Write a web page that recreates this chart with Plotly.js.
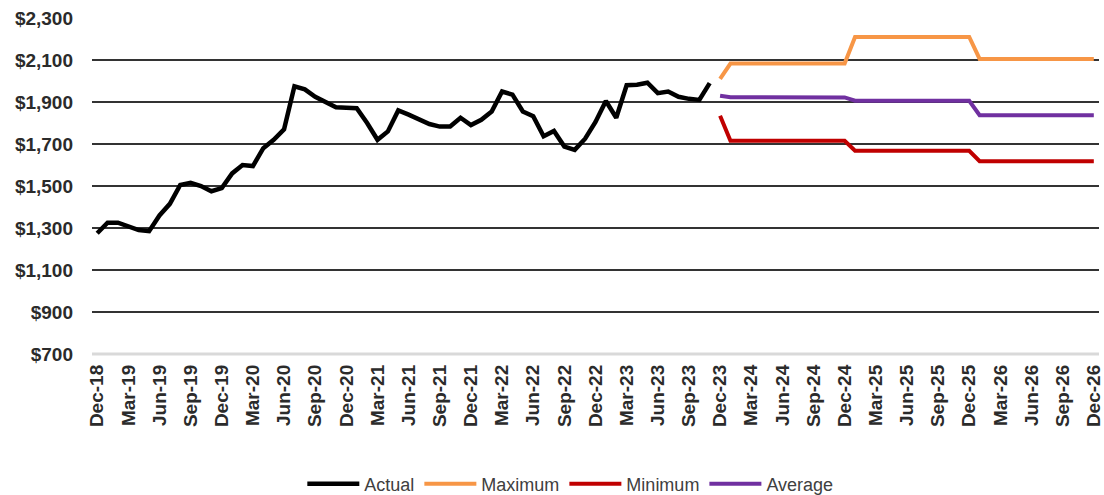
<!DOCTYPE html>
<html>
<head>
<meta charset="utf-8">
<script src="https://cdn.plot.ly/plotly-3.0.1.min.js"></script>
<style>
html,body{margin:0;padding:0;background:#fff;}
#chart{width:1104px;height:495px;}
</style>
</head>
<body>
<div id="chart"></div>
<script>
const months = [
  "Dec-18",
  "Jan-19","Feb-19","Mar-19","Apr-19","May-19","Jun-19","Jul-19","Aug-19","Sep-19","Oct-19","Nov-19","Dec-19",
  "Jan-20","Feb-20","Mar-20","Apr-20","May-20","Jun-20","Jul-20","Aug-20","Sep-20","Oct-20","Nov-20","Dec-20",
  "Jan-21","Feb-21","Mar-21","Apr-21","May-21","Jun-21","Jul-21","Aug-21","Sep-21","Oct-21","Nov-21","Dec-21",
  "Jan-22","Feb-22","Mar-22","Apr-22","May-22","Jun-22","Jul-22","Aug-22","Sep-22","Oct-22","Nov-22","Dec-22",
  "Jan-23","Feb-23","Mar-23","Apr-23","May-23","Jun-23","Jul-23","Aug-23","Sep-23","Oct-23","Nov-23","Dec-23",
  "Jan-24","Feb-24","Mar-24","Apr-24","May-24","Jun-24","Jul-24","Aug-24","Sep-24","Oct-24","Nov-24","Dec-24",
  "Jan-25","Feb-25","Mar-25","Apr-25","May-25","Jun-25","Jul-25","Aug-25","Sep-25","Oct-25","Nov-25","Dec-25",
  "Jan-26","Feb-26","Mar-26","Apr-26","May-26","Jun-26","Jul-26","Aug-26","Sep-26","Oct-26","Nov-26","Dec-26"
];

const tickLabels = ["Dec-18","Mar-19","Jun-19","Sep-19","Dec-19","Mar-20","Jun-20","Sep-20","Dec-20","Mar-21","Jun-21","Sep-21","Dec-21","Mar-22","Jun-22","Sep-22","Dec-22","Mar-23","Jun-23","Sep-23","Dec-23","Mar-24","Jun-24","Sep-24","Dec-24","Mar-25","Jun-25","Sep-25","Dec-25","Mar-26","Jun-26","Sep-26","Dec-26"];

const actual = [
  1275,
  1325,1325,1305,1290,1285,1360,1415,1505,1515,1500,1475,1490,
  1560,1600,1595,1680,1720,1770,1975,1960,1925,1900,1875,1873,
  1870,1800,1720,1760,1860,1840,1815,1795,1783,1783,1825,1790,
  1815,1855,1950,1935,1855,1832,1737,1762,1688,1672,1725,1805,
  1905,1825,1980,1982,1992,1942,1950,1925,1915,1910,1990
];

const maximum = [
  2010,
  2083,2083,2083,2083,2083,2083,2083,2083,2083,2083,2083,2083,
  2210,2210,2210,2210,2210,2210,2210,2210,2210,2210,2210,2210,
  2105,2105,2105,2105,2105,2105,2105,2105,2105,2105,2105,2105
];

const minimum = [
  1835,
  1715,1715,1715,1715,1715,1715,1715,1715,1715,1715,1715,1715,
  1668,1668,1668,1668,1668,1668,1668,1668,1668,1668,1668,1668,
  1618,1618,1618,1618,1618,1618,1618,1618,1618,1618,1618,1618
];

const average = [
  1930,
  1923,1923,1923,1923,1923,1923,1923,1923,1923,1923,1923,1922,
  1906,1906,1906,1906,1906,1906,1906,1906,1906,1906,1906,1906,
  1837,1837,1837,1837,1837,1837,1837,1837,1837,1837,1837,1837
];

const actualX = months.slice(0, actual.length);
const forecastX = months.slice(months.length - maximum.length);

const traces = [
  {x: actualX, y: actual, name: "Actual", type: "scatter", mode: "lines",
   line: {color: "#000000", width: 4.5}},
  {x: forecastX, y: maximum, name: "Maximum", type: "scatter", mode: "lines",
   line: {color: "#F79646", width: 4}},
  {x: forecastX, y: minimum, name: "Minimum", type: "scatter", mode: "lines",
   line: {color: "#C00000", width: 4}},
  {x: forecastX, y: average, name: "Average", type: "scatter", mode: "lines",
   line: {color: "#7030A0", width: 4}}
];

const layout = {
  width: 1104, height: 495,
  margin: {l: 92, r: 5, t: 18, b: 141, autoexpand: false},
  paper_bgcolor: "#ffffff",
  plot_bgcolor: "#ffffff",
  showlegend: true,
  legend: {
    orientation: "h", x: 0.475, xanchor: "center",
    yref: "container", y: 0.022, yanchor: "middle",
    font: {family: "Liberation Sans, Arial, sans-serif", size: 18, color: "#404040"},
    itemwidth: 52, traceorder: "normal"
  },
  xaxis: {
    type: "category",
    categoryorder: "array", categoryarray: months,
    range: [-0.5, months.length - 0.5],
    tickmode: "array", tickvals: tickLabels, ticktext: tickLabels,
    tickangle: -90,
    tickfont: {family: "Liberation Sans, Arial, sans-serif", size: 19, color: "#2b2b2b", weight: "bold"},
    showgrid: false, zeroline: false, automargin: false,
    showline: false,
    ticks: "", ticklabelstandoff: 6
  },
  yaxis: {
    range: [700, 2300],
    tickmode: "linear", tick0: 700, dtick: 200,
    tickprefix: "$", tickformat: ",d",
    tickfont: {family: "Liberation Sans, Arial, sans-serif", size: 19, color: "#2b2b2b", weight: "bold"},
    showgrid: true, gridcolor: "#333333", gridwidth: 1.6,
    zeroline: false, showline: false, ticks: "", automargin: false,
    ticklabelstandoff: 18
  },
  shapes: [
    {type: "line", xref: "paper", yref: "paper", x0: 0, x1: 1, y0: 0, y1: 0,
     line: {color: "#d9d9d9", width: 3}, layer: "above"}
  ]
};

Plotly.newPlot("chart", traces, layout, {displayModeBar: false, staticPlot: true});
</script>
</body>
</html>
